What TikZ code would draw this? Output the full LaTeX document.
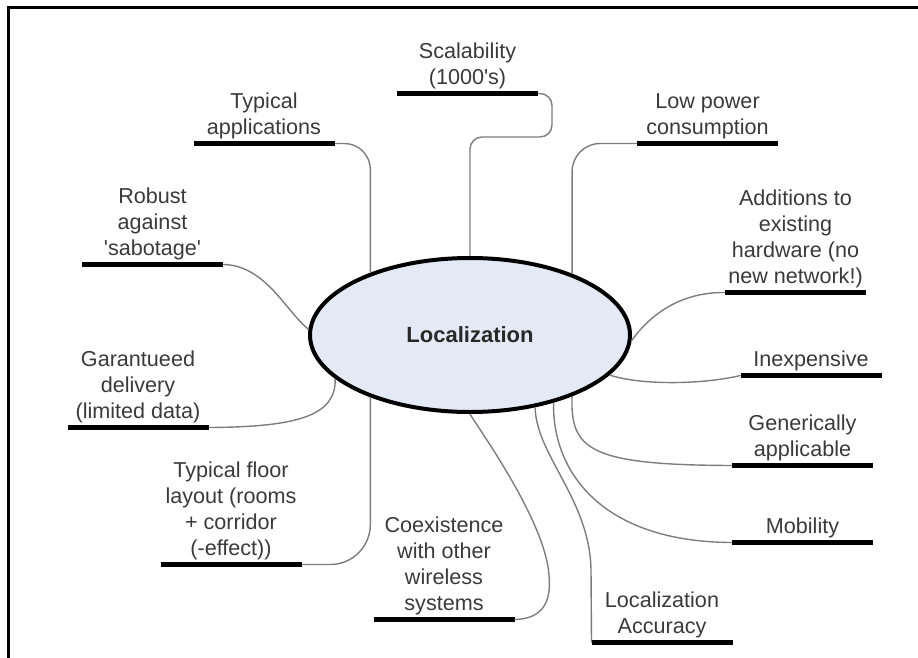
\documentclass[tikz,border=0pt]{standalone}
\usepackage{fontspec}
\setmainfont{Liberation Sans}[Ligatures=TeXOff]
\usetikzlibrary{shapes.geometric}

\definecolor{labelgray}{RGB}{58,58,58}
\definecolor{wiregray}{RGB}{125,125,125}
\definecolor{hubfill}{RGB}{228,234,245}

\begin{document}
\begin{tikzpicture}[x=1pt,y=-1pt,
  topic/.style={font=\fontsize{21.6}{26}\selectfont, text=labelgray, align=center,
    inner sep=0pt, outer sep=0pt, minimum width=141pt, anchor=south,
    execute at end node=\strut},
  bar/.style={line width=5pt, black},
  wire/.style={draw=wiregray, line width=1.4pt},
  hub/.style={ellipse, draw=black, line width=4pt, fill=hubfill,
    minimum width=320pt, minimum height=154pt, inner sep=0pt,
    font=\fontsize{22}{26}\selectfont\bfseries, text=labelgray!70!black},
  frame/.style={line width=3.4pt, black, line join=miter}]

\useasboundingbox (0,0) rectangle (918,658);

% border along the top and left edges
\coordinate (fbl) at (8.3,658);
\coordinate (ftl) at (8.3,7.5);
\coordinate (ftr) at (918,7.5);
\draw[frame] (fbl) -- (ftl) -- (ftr);

% central topic
\node[hub] (loc) at (470,335) {Localization};

% surrounding topics (each sits on its own underline)
\node[topic] (scal)   at (467.5,92)  {Scalability\\(1000's)};
\node[topic] (apps)   at (264,142)   {Typical\\applications};
\node[topic] (robust) at (152.5,263) {Robust\\against\\'sabotage'};
\node[topic] (deliv)  at (138,426)   {Garantueed\\delivery\\(limited data)};
\node[topic] (floor)  at (231,563)   {Typical floor\\layout (rooms\\+ corridor\\(-effect))};
\node[topic] (coex)   at (444,618)   {Coexistence\\with other\\wireless\\systems};
\node[topic] (acc)    at (662,641)   {Localization\\Accuracy};
\node[topic] (mob)    at (802.5,541) {Mobility};
\node[topic] (gen)    at (802.5,464) {Generically\\applicable};
\node[topic] (cheap)  at (811,374)   {Inexpensive};
\node[topic] (hw)     at (795.5,291) {Additions to\\existing\\hardware (no\\new network!)};
\node[topic] (power)  at (707.5,142) {Low power\\consumption};

% underlines, drawn just below each topic
\foreach \n in {scal,apps,robust,deliv,floor,coex,acc,mob,gen,cheap,hw,power}
  \draw[bar] ([yshift=-1.5pt]\n.south west) -- ([yshift=-1.5pt]\n.south east);

% branches
\draw[wire, rounded corners=12pt] ([yshift=-1.5pt]scal.south east) -| (552,137) -| (loc.90);
\draw[wire, rounded corners=26pt] ([yshift=-1.5pt]apps.south east) -| (loc.148);
\draw[wire, rounded corners=28pt] ([yshift=-1.5pt]power.south west) -| (loc.31);
\draw[wire] ([yshift=-1.5pt]robust.south east) .. controls (265,265) and (285,310) .. (loc.178);
\draw[wire] ([yshift=-1.5pt]deliv.south east) .. controls (300,427) and (336,415) .. (loc.198);
\draw[wire, rounded corners=40pt] ([yshift=-1.5pt]floor.south east) -| (loc.212);
\draw[wire] (loc.-90) .. controls (478,428) and (545,520) .. (549,575)
                      .. controls (552,605) and (540,619) .. ([yshift=-1.5pt]coex.south east);
\draw[wire] (loc.-48) .. controls (536,455) and (590,500) .. (591,570) -- ([yshift=-1.5pt]acc.south west);
\draw[wire] (loc.-39) .. controls (552,470) and (600,542) .. ([yshift=-1.5pt]mob.south west);
\draw[wire] (loc.-31) .. controls (570,450) and (590,465) .. ([yshift=-1.5pt]gen.south west);
\draw[wire] (loc.-16) .. controls (640,385) and (700,385) .. ([yshift=-1.5pt]cheap.south west);
\draw[wire] (loc.-2) .. controls (650,315) and (680,292) .. ([yshift=-1.5pt]hw.south west);

\end{tikzpicture}
\end{document}
